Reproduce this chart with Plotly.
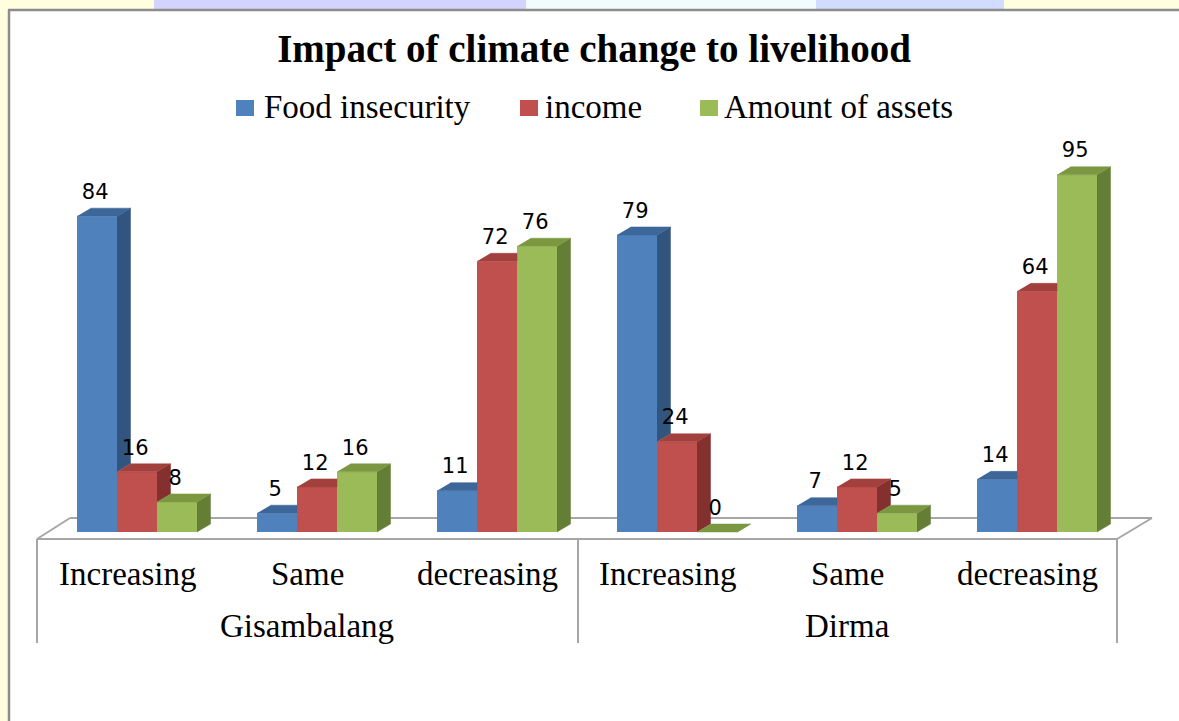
import plotly.graph_objects as go

# ---------------- data ----------------
categories = ["Increasing", "Same", "decreasing", "Increasing", "Same", "decreasing"]
groups = ["Gisambalang", "Dirma"]
series_names = ["Food insecurity", "income", "Amount of assets"]
food_insecurity = [84, 5, 11, 79, 7, 14]
income = [16, 12, 72, 24, 12, 64]
amount_of_assets = [8, 16, 76, 0, 5, 95]
title_text = "Impact of climate change to livelihood"

series_values = [food_insecurity, income, amount_of_assets]

# ---------------- styles ----------------
front_colors = ["#4F81BD", "#C0504D", "#9BBB59"]
top_colors = ["#3D6699", "#A2403D", "#7B9841"]
side_colors = ["#32557F", "#83302E", "#657E36"]

W, H = 1179, 721
PX_CAT = 180.0      # pixels per category
PX_UNIT = 3.76      # pixels per value unit
X0_PX = 137.0       # pixel of first category centre
Y0_PX = 532.0       # pixel of value zero
x_range = [-X0_PX / PX_CAT, (W - X0_PX) / PX_CAT]
y_range = [-(H - Y0_PX) / PX_UNIT, Y0_PX / PX_UNIT]

BW = 2.0 / 9.0                  # bar width in category units
DX = 13.5 / PX_CAT              # 3D depth (x)
DY = 8.0 / PX_UNIT              # 3D depth (y)


def px(x):
    return x / W


def py(y):
    return 1 - y / H


fig = go.Figure()

xs = list(range(len(categories)))

# front faces
for s, (name, vals) in enumerate(zip(series_names, series_values)):
    fig.add_trace(go.Bar(
        x=xs, y=vals, name=name, marker=dict(color=front_colors[s], line=dict(width=0)),
        showlegend=False, hoverinfo="skip"))

# top and side faces (computed from data)
for s, vals in enumerate(series_values):
    nxt = series_values[s + 1] if s + 1 < len(series_values) else None
    tx, ty, sx, sy = [], [], [], []
    for i, v in enumerate(vals):
        xc = i + (s - 1) * BW
        xl, xr = xc - BW / 2, xc + BW / 2
        nv = nxt[i] if nxt is not None else None
        # side
        if nv is None:
            sx += [xr, xr + DX, xr + DX, xr, None]
            sy += [0, DY, v + DY, v, None]
        elif v > nv:
            sx += [xr, xr + DX, xr + DX, xr, None]
            sy += [nv, nv + DY, v + DY, v, None]
        # top
        if nv is None or v >= nv:
            tx += [xl, xr, xr + DX, xl + DX, None]
            ty += [v, v, v + DY, v + DY, None]
        else:
            tx += [xl, xr, xr, xl + DX, None]
            ty += [v, v, v + DY, v + DY, None]
    fig.add_trace(go.Scatter(x=sx, y=sy, mode="lines", fill="toself",
                             fillcolor=side_colors[s], line=dict(width=0.5, color=side_colors[s]),
                             showlegend=False, hoverinfo="skip"))
    fig.add_trace(go.Scatter(x=tx, y=ty, mode="lines", fill="toself",
                             fillcolor=top_colors[s], line=dict(width=0.5, color=top_colors[s]),
                             showlegend=False, hoverinfo="skip"))

# value labels
for s, vals in enumerate(series_values):
    fig.add_trace(go.Scatter(
        x=[i + (s - 1) * BW - 0.01 for i in xs], y=[v + 6 for v in vals],
        mode="text", text=[str(v) for v in vals],
        textfont=dict(family="DejaVu Sans", size=21, color="#000000"),
        showlegend=False, hoverinfo="skip"))

shapes = []
# slide background strips
strip_cols = [(0, 154, "#FFFFE0"), (154, 526, "#D3D3FD"), (526, 816, "#F2FCFE"),
              (816, 1004, "#D2DCFE"), (1004, 1179, "#FFFFE0")]
for a, b, c in strip_cols:
    shapes.append(dict(type="rect", xref="paper", yref="paper", x0=px(a), x1=px(b),
                       y0=py(9), y1=1, fillcolor=c, line=dict(width=0), layer="below"))
shapes.append(dict(type="rect", xref="paper", yref="paper", x0=0, x1=px(8),
                   y0=0, y1=py(9), fillcolor="#FFFFE0", line=dict(width=0), layer="below"))
# frame
shapes.append(dict(type="line", xref="paper", yref="paper", x0=px(8), x1=1, y0=py(10), y1=py(10),
                   line=dict(color="#8C8C8C", width=2.5)))
shapes.append(dict(type="line", xref="paper", yref="paper", x0=px(9), x1=px(9), y0=py(10), y1=0,
                   line=dict(color="#8C8C8C", width=2.5)))

# floor
floor_col = "#A6A6A6"
floor_lines = [((37, 539), (1117, 539)), ((70, 518), (1152, 518)),
               ((37, 539), (70, 518)), ((1117, 539), (1152, 518)),
               ((37, 539), (37, 643)), ((1117, 539), (1117, 643)), ((578, 539), (578, 643))]
for (a, b), (c, d) in floor_lines:
    shapes.append(dict(type="line", xref="paper", yref="paper", x0=px(a), y0=py(b), x1=px(c), y1=py(d),
                       line=dict(color=floor_col, width=2), layer="below"))

# legend (manual)
legend_pos = [(236, 262), (520, 543), (700, 722)]
annotations = []
for s, name in enumerate(series_names):
    sq, tx0 = legend_pos[s]
    shapes.append(dict(type="rect", xref="paper", yref="paper", x0=px(sq), x1=px(sq + 18),
                       y0=py(116), y1=py(100), fillcolor=front_colors[s], line=dict(width=0)))
    annotations.append(dict(x=px(tx0), y=py(107), xref="paper", yref="paper", text=name,
                            showarrow=False, xanchor="left", yanchor="middle",
                            font=dict(family="Liberation Serif", size=33, color="#000000")))

# category labels
for i, c in enumerate(categories):
    annotations.append(dict(x=i - 10 / PX_CAT, y=py(574), xref="x", yref="paper", text=c,
                            showarrow=False, xanchor="center", yanchor="middle",
                            font=dict(family="Liberation Serif", size=33, color="#000000")))
for g, name in enumerate(groups):
    annotations.append(dict(x=3 * g + 1 - 10 / PX_CAT, y=py(626), xref="x", yref="paper", text=name,
                            showarrow=False, xanchor="center", yanchor="middle",
                            font=dict(family="Liberation Serif", size=33, color="#000000")))

fig.update_layout(
    width=W, height=H, autosize=False,
    margin=dict(l=0, r=0, t=0, b=0, pad=0),
    paper_bgcolor="#FFFFFF", plot_bgcolor="rgba(0,0,0,0)",
    barmode="group", bargap=1 / 3, bargroupgap=0,
    title=dict(text="<b>" + title_text + "</b>", x=594 / W, xanchor="center",
               y=py(48), yanchor="middle", yref="paper",
               font=dict(family="Liberation Serif", size=39, color="#000000")),
    xaxis=dict(range=x_range, visible=False, domain=[0, 1], fixedrange=True),
    yaxis=dict(range=y_range, visible=False, domain=[0, 1], fixedrange=True),
    shapes=shapes, annotations=annotations, showlegend=False,
)

fig.write_html("out.html")
